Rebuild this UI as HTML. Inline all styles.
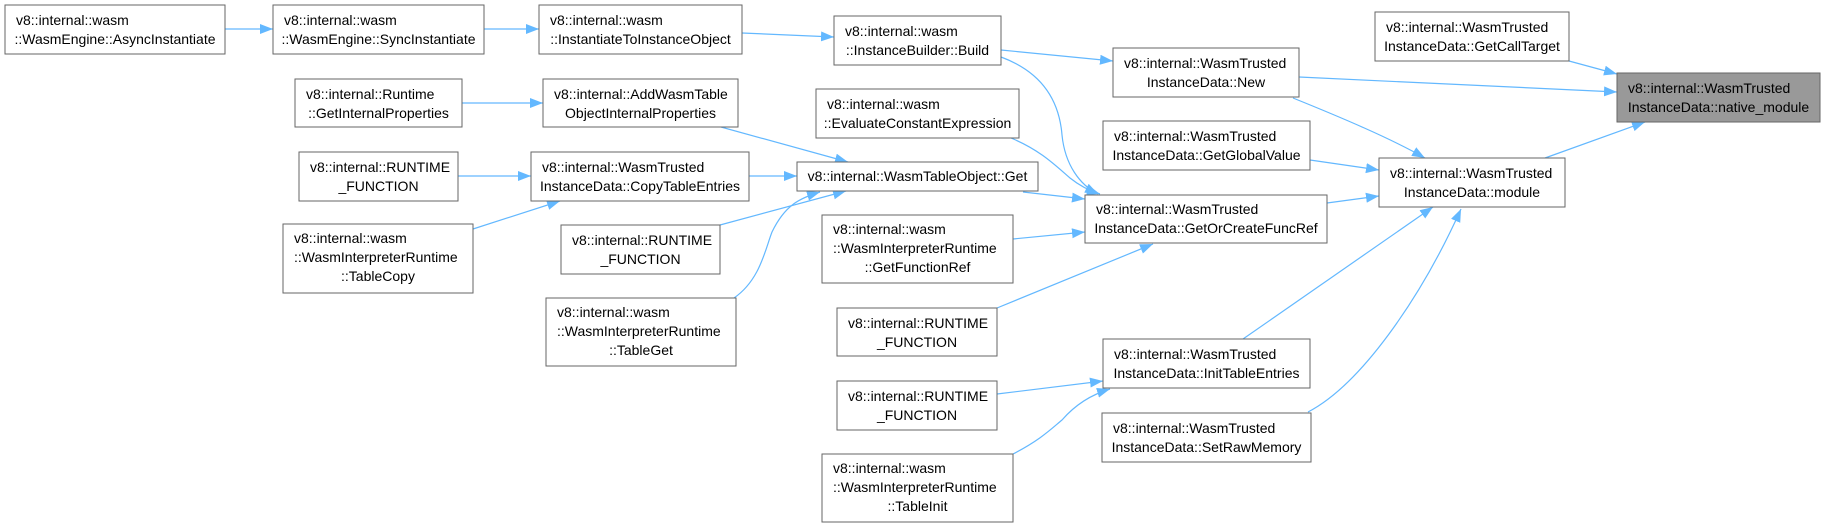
<!DOCTYPE html>
<html><head><meta charset="utf-8"><style>
html,body{margin:0;padding:0;background:#fff;}
svg{display:block;}
text{font-family:"Liberation Sans","DejaVu Sans",sans-serif;font-size:14px;fill:#000;}
.b{fill:#fff;stroke:#666;stroke-width:1;}
.e{fill:none;stroke:#63b8ff;stroke-width:1.2;marker-end:url(#a);}
</style></head><body>
<svg width="1825" height="528" viewBox="0 0 1825 528" xmlns="http://www.w3.org/2000/svg">
<defs><marker id="a" markerUnits="userSpaceOnUse" markerWidth="14" markerHeight="12" refX="13" refY="5" orient="auto"><path d="M0,0 L13,5 L0,10 z" fill="#63b8ff"/></marker></defs>
<g id="edges">
<path class="e" d="M225,29 L273,29"/>
<path class="e" d="M484,29 L539,29"/>
<path class="e" d="M742,33 L834,37"/>
<path class="e" d="M1001,50 L1113,61"/>
<path class="e" d="M1001,57 C1050,75 1060,110 1062,135 C1065,165 1080,185 1098,194"/>
<path class="e" d="M1299,77 L1617,92"/>
<path class="e" d="M1293,98 C1340,117 1390,138 1425,158"/>
<path class="e" d="M1569,61 L1617,74"/>
<path class="e" d="M1545,158 L1645,122"/>
<path class="e" d="M1310,160 L1379,170"/>
<path class="e" d="M1327,203 L1379,196"/>
<path class="e" d="M1243,339 L1433,207"/>
<path class="e" d="M1308,412 C1360,385 1420,300 1461,209"/>
<path class="e" d="M721,127 L848,162"/>
<path class="e" d="M749,176 L797,176"/>
<path class="e" d="M1011,138 C1040,150 1055,165 1070,178 C1080,186 1090,191 1100,194"/>
<path class="e" d="M1023,192 L1085,199"/>
<path class="e" d="M720,225 L846,191"/>
<path class="e" d="M734,298 C760,280 765,250 772,232 C785,205 800,198 820,192"/>
<path class="e" d="M1013,239 L1085,232"/>
<path class="e" d="M997,308 L1153,244"/>
<path class="e" d="M997,394 L1103,381"/>
<path class="e" d="M1013,454 C1040,440 1050,430 1062,420 C1075,405 1090,395 1110,389"/>
<path class="e" d="M458,176 L531,176"/>
<path class="e" d="M473,229 L560,201"/>
<path class="e" d="M462,103 L543,103"/>
</g>
<g id="nodes">
<!-- Async -->
<rect class="b" x="5" y="5" width="220" height="49"/>
<text x="16" y="25">v8::internal::wasm</text><text x="115" y="44" text-anchor="middle">::WasmEngine::AsyncInstantiate</text>
<!-- Sync -->
<rect class="b" x="273" y="5" width="211" height="49"/>
<text x="284" y="25">v8::internal::wasm</text><text x="378.5" y="44" text-anchor="middle">::WasmEngine::SyncInstantiate</text>
<!-- InstToInst -->
<rect class="b" x="539" y="5" width="203" height="49"/>
<text x="550" y="25">v8::internal::wasm</text><text x="640.5" y="44" text-anchor="middle">::InstantiateToInstanceObject</text>
<!-- Build -->
<rect class="b" x="834" y="16" width="167" height="49"/>
<text x="845" y="36">v8::internal::wasm</text><text x="917.5" y="55" text-anchor="middle">::InstanceBuilder::Build</text>
<!-- GetInternalProps -->
<rect class="b" x="295" y="79" width="167" height="48"/>
<text x="306" y="99">v8::internal::Runtime</text><text x="378.5" y="118" text-anchor="middle">::GetInternalProperties</text>
<!-- AddWasmTable -->
<rect class="b" x="543" y="79" width="195" height="48"/>
<text x="554" y="99">v8::internal::AddWasmTable</text><text x="640.5" y="118" text-anchor="middle">ObjectInternalProperties</text>
<!-- RUNTIME 1 -->
<rect class="b" x="299" y="152" width="159" height="49"/>
<text x="310" y="172">v8::internal::RUNTIME</text><text x="378.5" y="191" text-anchor="middle">_FUNCTION</text>
<!-- CopyTableEntries -->
<rect class="b" x="531" y="152" width="218" height="49"/>
<text x="542" y="172">v8::internal::WasmTrusted</text><text x="640" y="191" text-anchor="middle">InstanceData::CopyTableEntries</text>
<!-- TableCopy -->
<rect class="b" x="283" y="224" width="190" height="69"/>
<text x="294" y="243">v8::internal::wasm</text><text x="294" y="262">::WasmInterpreterRuntime</text><text x="378" y="281" text-anchor="middle">::TableCopy</text>
<!-- RUNTIME 2 -->
<rect class="b" x="561" y="225" width="159" height="49"/>
<text x="572" y="245">v8::internal::RUNTIME</text><text x="640.5" y="264" text-anchor="middle">_FUNCTION</text>
<!-- TableGet -->
<rect class="b" x="546" y="298" width="190" height="68"/>
<text x="557" y="317">v8::internal::wasm</text><text x="557" y="336">::WasmInterpreterRuntime</text><text x="641" y="355" text-anchor="middle">::TableGet</text>
<!-- Evaluate -->
<rect class="b" x="816" y="89" width="203" height="49"/>
<text x="827" y="109">v8::internal::wasm</text><text x="917.5" y="128" text-anchor="middle">::EvaluateConstantExpression</text>
<!-- Get -->
<rect class="b" x="797" y="162" width="241" height="29"/>
<text x="917.5" y="181" text-anchor="middle">v8::internal::WasmTableObject::Get</text>
<!-- GetFunctionRef -->
<rect class="b" x="822" y="215" width="191" height="68"/>
<text x="833" y="234">v8::internal::wasm</text><text x="833" y="253">::WasmInterpreterRuntime</text><text x="917.5" y="272" text-anchor="middle">::GetFunctionRef</text>
<!-- RUNTIME 3 -->
<rect class="b" x="837" y="308" width="160" height="48"/>
<text x="848" y="328">v8::internal::RUNTIME</text><text x="917" y="347" text-anchor="middle">_FUNCTION</text>
<!-- RUNTIME 4 -->
<rect class="b" x="837" y="381" width="160" height="49"/>
<text x="848" y="401">v8::internal::RUNTIME</text><text x="917" y="420" text-anchor="middle">_FUNCTION</text>
<!-- TableInit -->
<rect class="b" x="822" y="454" width="191" height="68"/>
<text x="833" y="473">v8::internal::wasm</text><text x="833" y="492">::WasmInterpreterRuntime</text><text x="917.5" y="511" text-anchor="middle">::TableInit</text>
<!-- New -->
<rect class="b" x="1113" y="48" width="186" height="49"/>
<text x="1124" y="68">v8::internal::WasmTrusted</text><text x="1206" y="87" text-anchor="middle">InstanceData::New</text>
<!-- GetGlobalValue -->
<rect class="b" x="1103" y="121" width="207" height="49"/>
<text x="1114" y="141">v8::internal::WasmTrusted</text><text x="1206.5" y="160" text-anchor="middle">InstanceData::GetGlobalValue</text>
<!-- GetOrCreateFuncRef -->
<rect class="b" x="1085" y="195" width="242" height="48"/>
<text x="1096" y="214">v8::internal::WasmTrusted</text><text x="1206" y="233" text-anchor="middle">InstanceData::GetOrCreateFuncRef</text>
<!-- InitTableEntries -->
<rect class="b" x="1103" y="339" width="207" height="49"/>
<text x="1114" y="359">v8::internal::WasmTrusted</text><text x="1206.5" y="378" text-anchor="middle">InstanceData::InitTableEntries</text>
<!-- SetRawMemory -->
<rect class="b" x="1102" y="413" width="209" height="49"/>
<text x="1113" y="433">v8::internal::WasmTrusted</text><text x="1206.5" y="452" text-anchor="middle">InstanceData::SetRawMemory</text>
<!-- GetCallTarget -->
<rect class="b" x="1375" y="12" width="194" height="49"/>
<text x="1386" y="32">v8::internal::WasmTrusted</text><text x="1472" y="51" text-anchor="middle">InstanceData::GetCallTarget</text>
<!-- module -->
<rect class="b" x="1379" y="158" width="186" height="49"/>
<text x="1390" y="178">v8::internal::WasmTrusted</text><text x="1472" y="197" text-anchor="middle">InstanceData::module</text>
<!-- native_module -->
<rect x="1617" y="73" width="203" height="49" fill="#999" stroke="#666"/>
<text x="1628" y="93">v8::internal::WasmTrusted</text><text x="1718.5" y="112" text-anchor="middle">InstanceData::native_module</text>
</g>
</svg>
</body></html>
